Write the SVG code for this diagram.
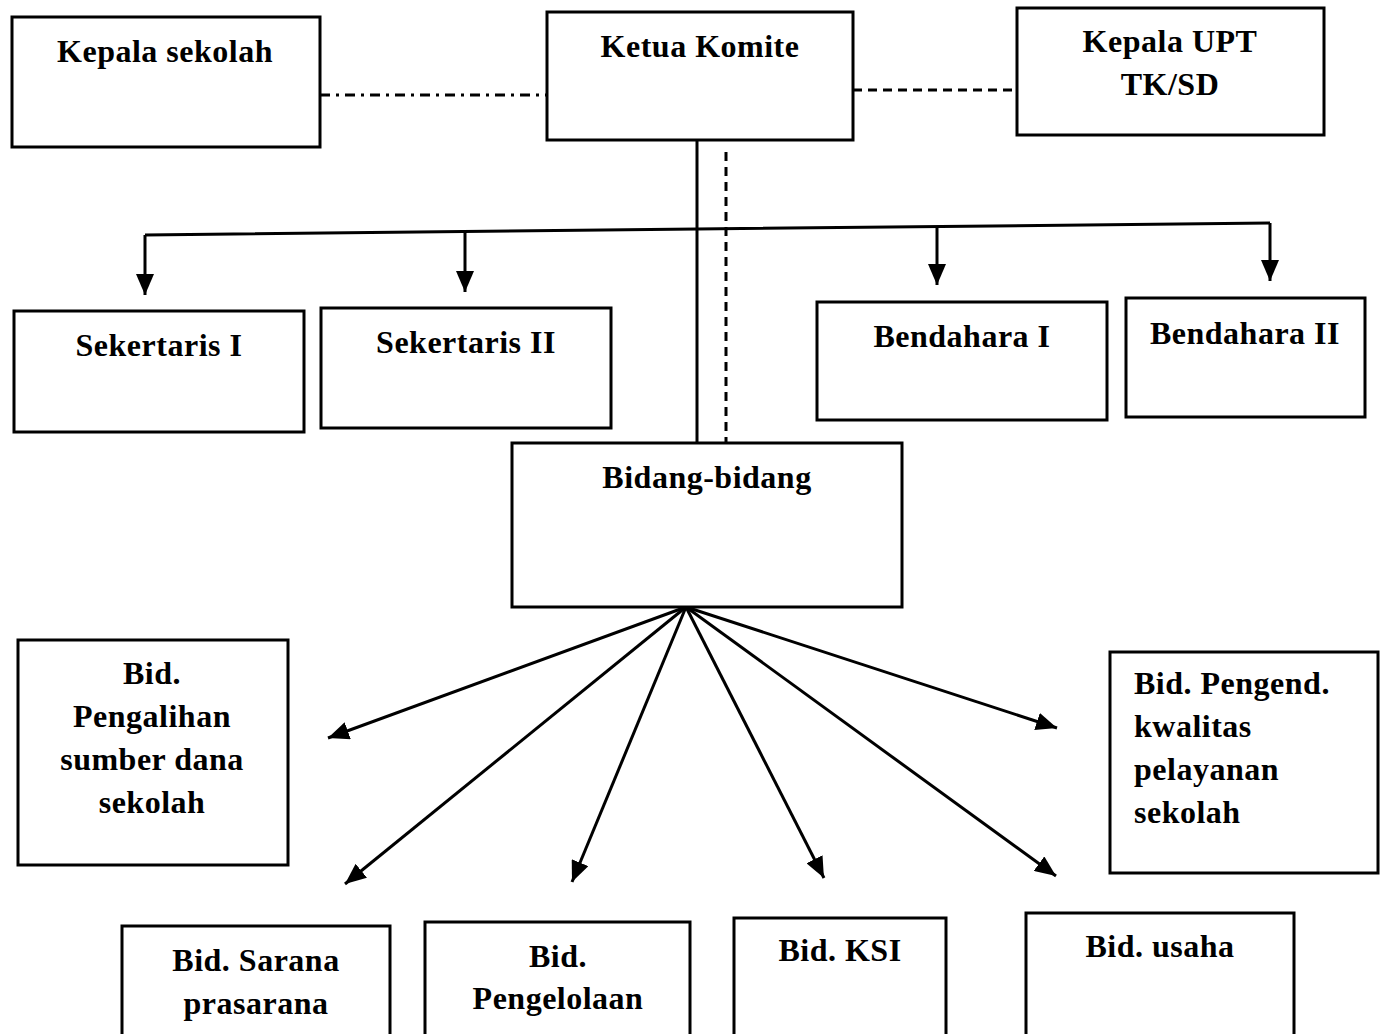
<svg xmlns="http://www.w3.org/2000/svg" width="1385" height="1034" viewBox="0 0 1385 1034">
<defs>
<style>
.box{fill:#fff;stroke:#000;stroke-width:3}
.t{font-family:"Liberation Serif","DejaVu Serif",serif;font-weight:bold;font-size:32px;letter-spacing:0.5px;fill:#000;text-anchor:middle}
.tl{text-anchor:start}
.ln{fill:none;stroke:#000;stroke-width:3}
.dd{stroke-dasharray:10 6 3 6}
.ds{stroke-dasharray:9 6}
</style>
<marker id="ah" viewBox="0 0 10 10" refX="10" refY="5" markerWidth="7" markerHeight="6" markerUnits="strokeWidth" orient="auto" preserveAspectRatio="none">
<path d="M0,0 L10,5 L0,10 z" fill="#000"/>
</marker>
</defs>
<rect width="1385" height="1034" fill="#fff"/>
<g id="connectors">
<line class="ln dd" x1="320" y1="95" x2="547" y2="95"/>
<line class="ln ds" x1="853" y1="90" x2="1017" y2="90"/>
<line class="ln" x1="697" y1="140" x2="697" y2="443"/>
<line class="ln ds" x1="726" y1="152" x2="726" y2="443"/>
<polyline class="ln" points="145,235 697,229 1270,223"/>
<line class="ln" x1="145" y1="235" x2="145" y2="295" marker-end="url(#ah)"/>
<line class="ln" x1="465" y1="232" x2="465" y2="292" marker-end="url(#ah)"/>
<line class="ln" x1="937" y1="226" x2="937" y2="285" marker-end="url(#ah)"/>
<line class="ln" x1="1270" y1="223" x2="1270" y2="281" marker-end="url(#ah)"/>
<line class="ln" x1="686" y1="607" x2="328" y2="738" marker-end="url(#ah)"/>
<line class="ln" x1="686" y1="607" x2="345" y2="884" marker-end="url(#ah)"/>
<line class="ln" x1="686" y1="607" x2="572" y2="882" marker-end="url(#ah)"/>
<line class="ln" x1="686" y1="607" x2="824" y2="878" marker-end="url(#ah)"/>
<line class="ln" x1="686" y1="607" x2="1056" y2="876" marker-end="url(#ah)"/>
<line class="ln" x1="686" y1="607" x2="1057" y2="728" marker-end="url(#ah)"/>
</g>
<g id="kepala-sekolah"><rect class="box" x="12" y="17" width="308" height="130"/><text class="t" x="165" y="62">Kepala sekolah</text></g>
<g id="ketua-komite"><rect class="box" x="547" y="12" width="306" height="128"/><text class="t" x="700" y="57">Ketua Komite</text></g>
<g id="kepala-upt"><rect class="box" x="1017" y="8" width="307" height="127"/><text class="t" x="1170" y="52">Kepala UPT</text><text class="t" x="1170" y="95">TK/SD</text></g>
<g id="sekertaris-1"><rect class="box" x="14" y="311" width="290" height="121"/><text class="t" x="159" y="356">Sekertaris I</text></g>
<g id="sekertaris-2"><rect class="box" x="321" y="308" width="290" height="120"/><text class="t" x="466" y="353">Sekertaris II</text></g>
<g id="bendahara-1"><rect class="box" x="817" y="302" width="290" height="118"/><text class="t" x="962" y="347">Bendahara I</text></g>
<g id="bendahara-2"><rect class="box" x="1126" y="298" width="239" height="119"/><text class="t" x="1245" y="344">Bendahara II</text></g>
<g id="bidang-bidang"><rect class="box" x="512" y="443" width="390" height="164"/><text class="t" x="707" y="488">Bidang-bidang</text></g>
<g id="bid-pengalihan"><rect class="box" x="18" y="640" width="270" height="225"/><text class="t" x="152" y="684">Bid.</text><text class="t" x="152" y="727">Pengalihan</text><text class="t" x="152" y="770">sumber dana</text><text class="t" x="152" y="813">sekolah</text></g>
<g id="bid-pengend"><rect class="box" x="1110" y="652" width="268" height="221"/><text class="t tl" x="1134" y="694">Bid. Pengend.</text><text class="t tl" x="1134" y="737">kwalitas</text><text class="t tl" x="1134" y="780">pelayanan</text><text class="t tl" x="1134" y="823">sekolah</text></g>
<g id="bid-sarana"><rect class="box" x="122" y="926" width="268" height="120"/><text class="t" x="256" y="971">Bid. Sarana</text><text class="t" x="256" y="1014">prasarana</text></g>
<g id="bid-pengelolaan"><rect class="box" x="425" y="922" width="265" height="124"/><text class="t" x="558" y="967">Bid.</text><text class="t" x="558" y="1009">Pengelolaan</text></g>
<g id="bid-ksi"><rect class="box" x="734" y="918" width="212" height="128"/><text class="t" x="840" y="961">Bid. KSI</text></g>
<g id="bid-usaha"><rect class="box" x="1026" y="913" width="268" height="133"/><text class="t" x="1160" y="957">Bid. usaha</text></g>
</svg>
